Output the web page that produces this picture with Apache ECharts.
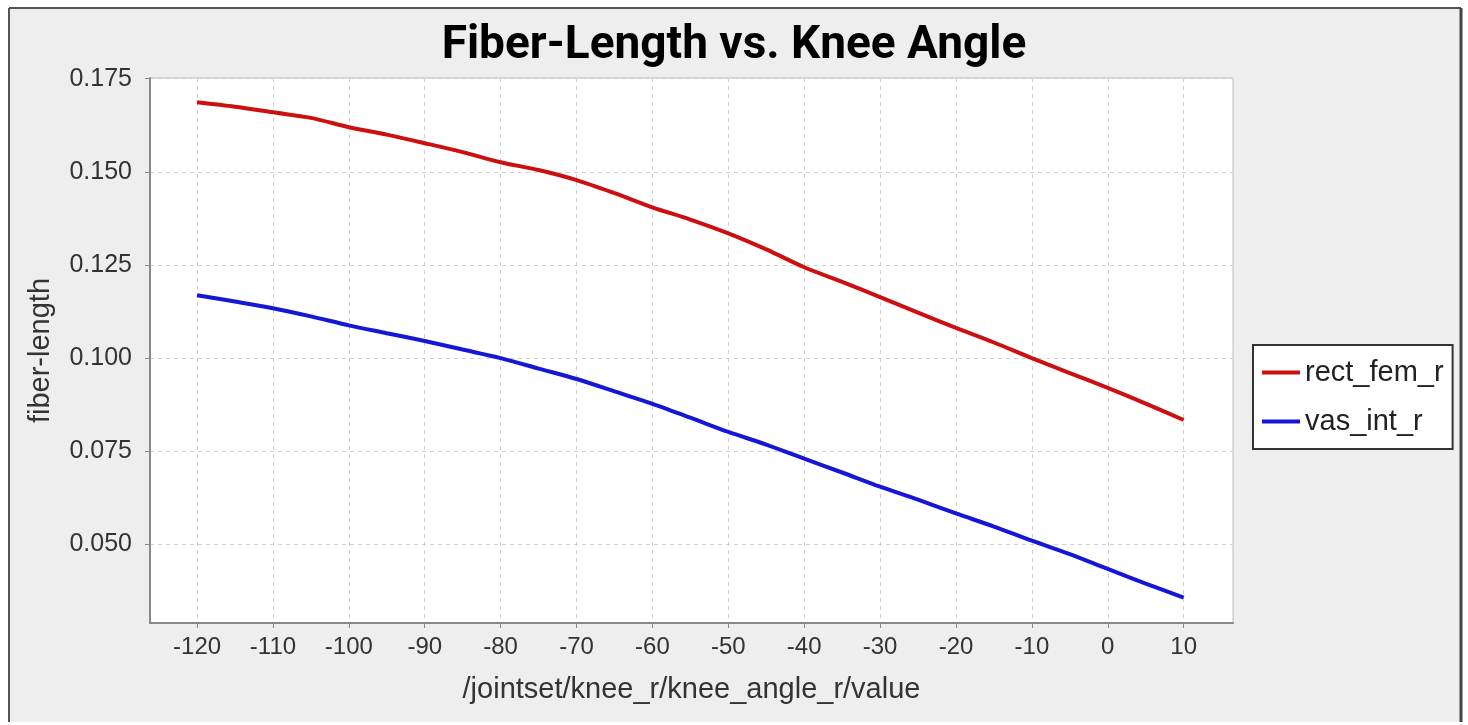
<!DOCTYPE html>
<html>
<head>
<meta charset="utf-8">
<script src="https://cdn.jsdelivr.net/npm/echarts@6/dist/echarts.min.js"></script>
<style>
html,body{margin:0;padding:0;background:#fff;}
#chart{width:1468px;height:725px;}
</style>
</head>
<body>
<div id="chart"></div>
<script>
const kneeAngle = [-120,-115,-110,-105,-100,-95,-90,-85,-80,-75,-70,-65,-60,-55,-50,-45,-40,-35,-30,-25,-20,-15,-10,-5,0,5,10];
const rectFemR = [0.1687,0.1675,0.1660,0.1645,0.1620,0.1600,0.1577,0.1553,0.1526,0.1505,0.1478,0.1443,0.1405,0.1372,0.1335,0.1292,0.1244,0.1205,0.1164,0.1122,0.1081,0.1042,0.1000,0.0960,0.0920,0.0878,0.0834];
const vasIntR = [0.1169,0.1152,0.1134,0.1112,0.1088,0.1067,0.1046,0.1023,0.1000,0.0972,0.0944,0.0911,0.0877,0.0840,0.0802,0.0768,0.0730,0.0693,0.0655,0.0620,0.0583,0.0548,0.0510,0.0474,0.0434,0.0395,0.0357];
const xTicks = [-120,-110,-100,-90,-80,-70,-60,-50,-40,-30,-20,-10,0,10];
const yTicks = [0.050,0.075,0.100,0.125,0.150,0.175];
const seriesNames = ['rect_fem_r','vas_int_r'];

const chart = echarts.init(document.getElementById('chart'));
const FONT = '"Liberation Sans", Arial, sans-serif';
chart.setOption({
  animation: false,
  textStyle: {fontFamily: FONT},
  graphic: [
    {type:'rect', z:-10, shape:{x:9,y:8,width:1452,height:714}, style:{fill:'#eeeeee'}},
    {type:'line', z:-9, shape:{x1:9,y1:8,x2:1461,y2:8}, style:{stroke:'#555',lineWidth:2}},
    {type:'line', z:-9, shape:{x1:9,y1:8,x2:9,y2:722}, style:{stroke:'#555',lineWidth:2}},
    {type:'line', z:-9, shape:{x1:1461,y1:8,x2:1461,y2:722}, style:{stroke:'#444',lineWidth:3}}
  ],
  title: {
    text: 'Fiber-Length vs. Knee Angle',
    left: 'center', top: 18,
    textStyle: {fontFamily: 'Roboto, "Liberation Sans", sans-serif', fontSize: 46, fontWeight: 'bold', color: '#000'}
  },
  legend: {
    orient: 'vertical', left: 1253, top: 345,
    padding: [13, 9, 13, 9], itemGap: 20,
    itemWidth: 38, itemHeight: 4, icon: 'rect',
    borderColor: '#333', borderWidth: 2, backgroundColor: '#fff',
    textStyle: {fontFamily: FONT, fontSize: 29, color: '#222'},
    data: seriesNames
  },
  grid: {
    left: 150, top: 78, right: 235, bottom: 102,
    show: true, backgroundColor: '#fff', borderColor: '#bbb', borderWidth: 1
  },
  xAxis: {
    type: 'value', min: -126.2, max: 16.5,
    name: '/jointset/knee_r/knee_angle_r/value',
    nameLocation: 'middle', nameGap: 52,
    nameTextStyle: {fontFamily: FONT, fontSize: 29, color: '#333'},
    axisLine: {show: true, onZero: false, lineStyle: {color: '#888', width: 2}},
    axisTick: {show: true, length: 5, lineStyle: {color: '#888'}, customValues: xTicks},
    axisLabel: {fontFamily: FONT, fontSize: 24, color: '#333', margin: 12, customValues: xTicks},
    splitLine: {show: true, lineStyle: {color: '#d0d0d0', type: [4, 4]}}
  },
  yAxis: {
    type: 'value', min: 0.0289, max: 0.1752,
    name: 'fiber-length',
    nameLocation: 'middle', nameGap: 95, nameRotate: 90,
    nameTextStyle: {fontFamily: FONT, fontSize: 29, color: '#333'},
    axisLine: {show: true, onZero: false, lineStyle: {color: '#888', width: 2}},
    axisTick: {show: true, length: 5, lineStyle: {color: '#888'}, customValues: yTicks},
    axisLabel: {fontFamily: FONT, fontSize: 25, color: '#333', margin: 18, customValues: yTicks,
      formatter: v => v.toFixed(3)},
    splitLine: {show: true, lineStyle: {color: '#d0d0d0', type: [4, 4]}}
  },
  series: [
    {name: seriesNames[0], type: 'line', data: kneeAngle.map((x,i)=>[x, rectFemR[i]]),
     showSymbol: false, smooth: 0.3, color: '#cc1010', lineStyle: {width: 4, color: '#cc1010'}},
    {name: seriesNames[1], type: 'line', data: kneeAngle.map((x,i)=>[x, vasIntR[i]]),
     showSymbol: false, smooth: 0.3, color: '#1616d6', lineStyle: {width: 4, color: '#1616d6'}}
  ]
});
</script>
</body>
</html>
